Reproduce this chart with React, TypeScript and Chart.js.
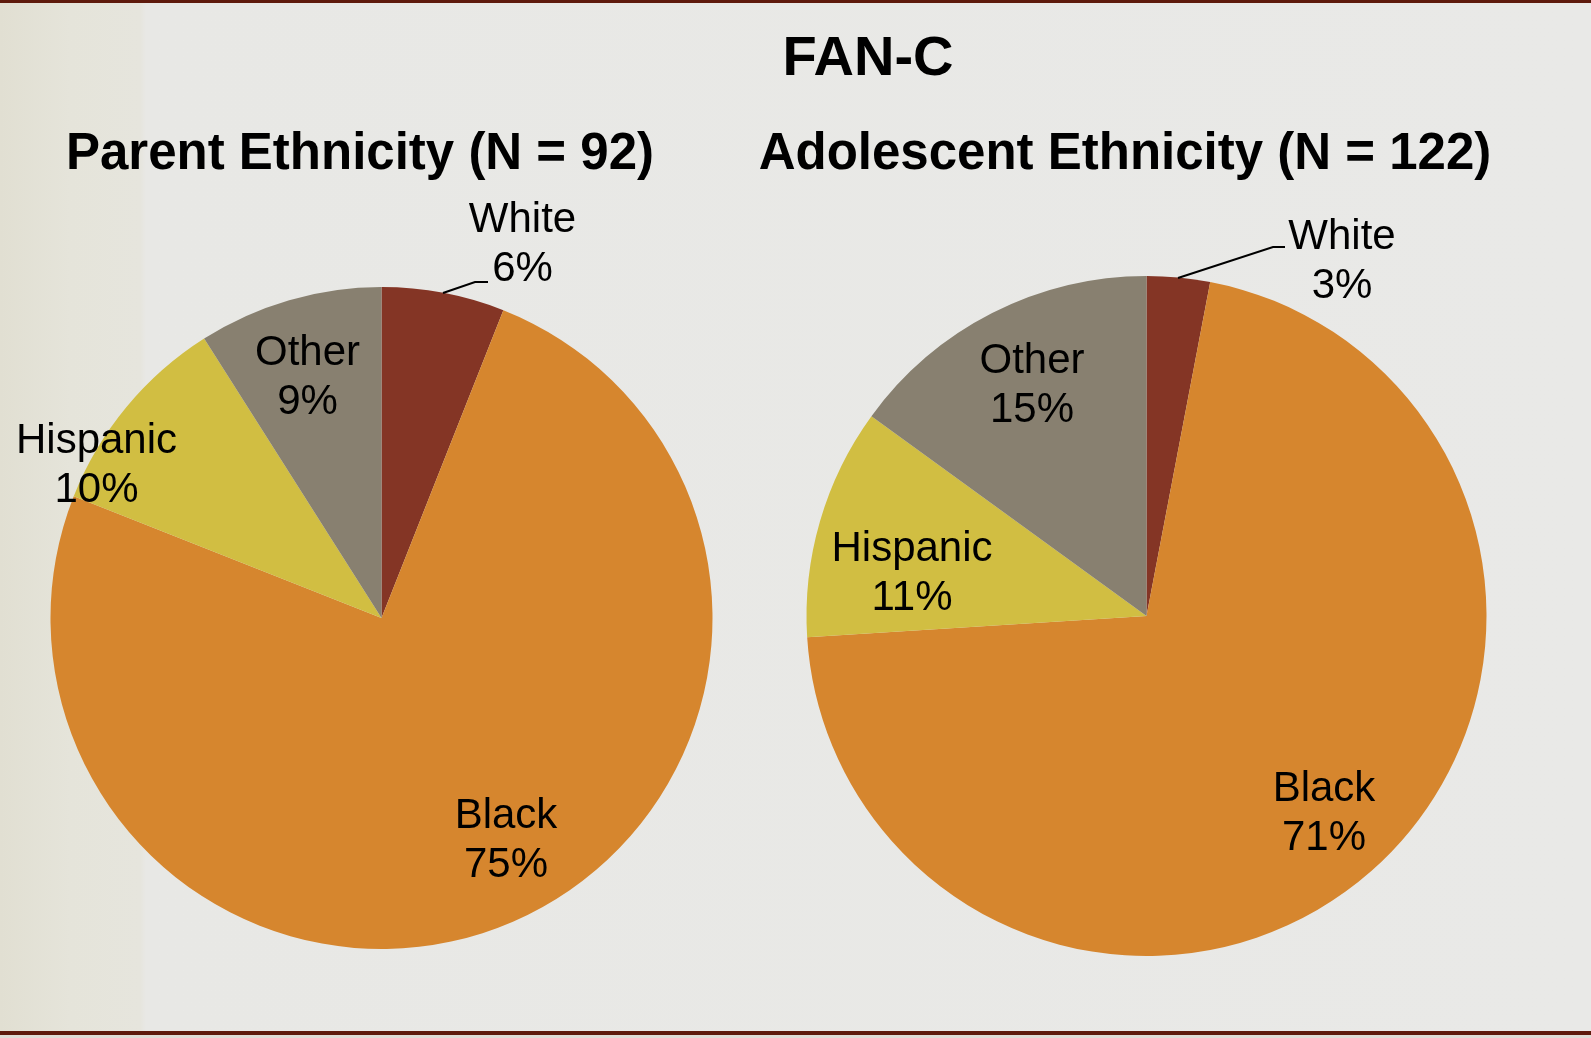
import React, { useEffect, useRef } from "react";
import { Chart, registerables } from "chart.js";

Chart.register(...registerables);

// ---- data ----
const categories = ["White", "Black", "Hispanic", "Other"];
const parentValues = [6, 75, 10, 9];
const adolescentValues = [3, 71, 11, 15];
const sliceColors = ["#843525", "#D6862E", "#D1BE42", "#888070"];
const mainTitle = "FAN-C";
const parentTitle = "Parent Ethnicity (N = 92)";
const adolescentTitle = "Adolescent Ethnicity (N = 122)";

// ---- layout ----
const W = 1591;
const H = 1038;
const FONT = '"Liberation Sans", Arial, Helvetica, sans-serif';

const labelPlugin = {
  id: "sliceLabels",
  afterDatasetsDraw(chart: any, _args: any, opts: any) {
    const meta = chart.getDatasetMeta(0);
    const arc0 = meta.data[0];
    if (!arc0) return;
    const cx = arc0.x;
    const cy = arc0.y;
    const ctx = chart.ctx;
    ctx.save();
    if (opts.leader) {
      ctx.strokeStyle = "#000";
      ctx.lineWidth = 2;
      ctx.beginPath();
      opts.leader.forEach((p: number[], i: number) => {
        if (i === 0) ctx.moveTo(cx + p[0], cy + p[1]);
        else ctx.lineTo(cx + p[0], cy + p[1]);
      });
      ctx.stroke();
    }
    ctx.font = `42px ${FONT}`;
    ctx.fillStyle = "#000";
    ctx.textAlign = "center";
    ctx.textBaseline = "middle";
    const values = chart.data.datasets[0].data;
    chart.data.labels.forEach((lab: string, i: number) => {
      const off = opts.offsets[i];
      const x = cx + off[0];
      const y = cy + off[1] + 3;
      ctx.fillText(lab, x, y - opts.lineGap / 2);
      ctx.fillText(values[i] + "%", x, y + opts.lineGap / 2);
    });
    ctx.restore();
  },
};

function PieCanvas(props: {
  values: number[];
  padding: { left: number; right: number; top: number; bottom: number };
  offsets: number[][];
  leader: number[][];
}) {
  const ref = useRef<HTMLCanvasElement>(null);
  useEffect(() => {
    if (!ref.current) return;
    const chart = new Chart(ref.current, {
      type: "pie",
      data: {
        labels: categories,
        datasets: [
          {
            data: props.values,
            backgroundColor: sliceColors,
            borderWidth: 0,
          },
        ],
      },
      options: {
        animation: false,
        responsive: false,
        maintainAspectRatio: false,
        layout: { padding: props.padding },
        plugins: {
          legend: { display: false },
          tooltip: { enabled: false },
          sliceLabels: { offsets: props.offsets, leader: props.leader, lineGap: 49 },
        } as any,
      },
      plugins: [labelPlugin],
    });
    return () => chart.destroy();
  }, []);
  return (
    <canvas
      ref={ref}
      width={W}
      height={H}
      style={{ position: "absolute", left: 0, top: 0, width: W, height: H }}
    />
  );
}

function TitleText(props: { text: string; x: number; y: number; size: number }) {
  return (
    <div
      style={{
        position: "absolute",
        left: props.x,
        top: props.y,
        transform: "translate(-50%, -50%)",
        fontFamily: FONT,
        fontWeight: "bold",
        fontSize: props.size,
        lineHeight: 1,
        whiteSpace: "nowrap",
        color: "#000",
      }}
    >
      {props.text}
    </div>
  );
}

export default function App() {
  return (
    <div
      style={{
        position: "absolute",
        left: 0,
        top: 0,
        width: W,
        height: H,
        overflow: "hidden",
        background:
          "linear-gradient(to right, #E1DFD2 0px, #E5E4DA 70px, #E6E5DD 140px, #E8E8E5 146px, #E9E9E7 100%)",
      }}
    >
      <div style={{ position: "absolute", left: 0, top: 0, width: W, height: 3, background: "#5E1A0C" }} />
      <div style={{ position: "absolute", left: 0, top: 1031, width: W, height: 4, background: "#5E1A0C" }} />
      <div style={{ position: "absolute", left: 0, top: 1035, width: W, height: 3, background: "#DEDCD5" }} />
      <TitleText text={mainTitle} x={868} y={56} size={56} />
      <TitleText text={parentTitle} x={360} y={151} size={51} />
      <TitleText text={adolescentTitle} x={1125} y={151} size={51} />
      <PieCanvas
        values={parentValues}
        padding={{ left: 50.5, right: 878.5, top: 287, bottom: 89 }}
        offsets={[
          [141, -376],
          [124.5, 220],
          [-285, -155],
          [-74, -243.5],
        ]}
        leader={[
          [61.5, -325],
          [93.5, -336],
          [106.5, -336],
        ]}
      />
      <PieCanvas
        values={adolescentValues}
        padding={{ left: 806.5, right: 104.5, top: 276, bottom: 82 }}
        offsets={[
          [195.5, -357.5],
          [177.5, 194.5],
          [-234.5, -45.5],
          [-114.5, -233.5],
        ]}
        leader={[
          [31.5, -338],
          [126.5, -369],
          [138.5, -369],
        ]}
      />
    </div>
  );
}
